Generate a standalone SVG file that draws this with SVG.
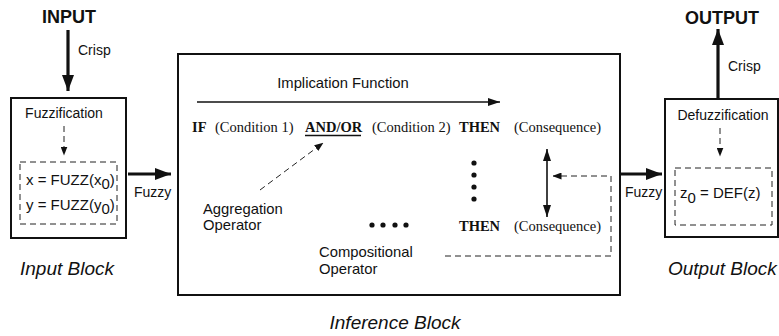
<svg xmlns="http://www.w3.org/2000/svg" width="779" height="336" viewBox="0 0 779 336">
  <style>
    .box { fill: none; stroke: #111; stroke-width: 2; }
    .dash { fill: none; stroke: #222; stroke-width: 1; stroke-dasharray: 6 4; }
    .thick { fill: none; stroke: #111; stroke-width: 3.2; }
    .thin { fill: none; stroke: #111; stroke-width: 1.6; }
    .sans { font-family: "Liberation Sans", Arial, sans-serif; fill: #111; }
    .serif { font-family: "Liberation Serif", "Times New Roman", serif; fill: #111; font-size: 14.5px; }
    .b { font-weight: bold; }
    .lbl { font-size: 14px; }
    .op { font-size: 14.8px; }
    .eq { font-size: 15px; }
    .title { font-size: 18px; font-weight: bold; }
    .cap { font-size: 19px; font-style: italic; }
  </style>
  <defs>
    <marker id="headLg" markerUnits="userSpaceOnUse" markerWidth="17" markerHeight="12" refX="16" refY="6" orient="auto">
      <path d="M0,0 L16,6 L0,12 z" fill="#111"/>
    </marker>
    <marker id="headMd" markerUnits="userSpaceOnUse" markerWidth="13" markerHeight="8" refX="12" refY="4" orient="auto-start-reverse">
      <path d="M0,0 L12,4 L0,8 z" fill="#111"/>
    </marker>
    <marker id="headSm" markerUnits="userSpaceOnUse" markerWidth="9" markerHeight="7" refX="8.5" refY="3.5" orient="auto">
      <path d="M0,0 L9,3.5 L0,7 z" fill="#111"/>
    </marker>
  </defs>

  <!-- Input block -->
  <g id="input-block">
    <text class="sans title" x="69" y="23" text-anchor="middle">INPUT</text>
    <rect class="box" x="11" y="98" width="115" height="140"/>
    <text class="sans lbl" x="64" y="118" text-anchor="middle">Fuzzification</text>
    <rect class="dash" x="20" y="162" width="97" height="62"/>
    <text class="sans eq" x="26" y="185">x = FUZZ(x<tspan dy="4">0</tspan><tspan dy="-4">)</tspan></text>
    <text class="sans eq" x="26" y="210">y = FUZZ(y<tspan dy="4">0</tspan><tspan dy="-4">)</tspan></text>
    <text class="sans cap" x="20" y="275">Input Block</text>
  </g>

  <!-- Inference block -->
  <g id="inference-block">
    <rect class="box" x="178" y="54" width="442" height="241"/>
    <text class="sans op" x="343" y="88" text-anchor="middle">Implication Function</text>
    <text class="serif b" x="192" y="132">IF</text>
    <text class="serif" x="215" y="132">(Condition 1)</text>
    <text class="serif b" x="305" y="132">AND/OR</text>
    <line x1="305" y1="135.5" x2="361" y2="135.5" stroke="#111" stroke-width="1.4"/>
    <text class="serif" x="372" y="132">(Condition 2)</text>
    <text class="serif b" x="459" y="132">THEN</text>
    <text class="serif" x="514" y="132">(Consequence)</text>
    <g fill="#111">
      <circle cx="474" cy="163" r="2.6"/>
      <circle cx="474" cy="175" r="2.6"/>
      <circle cx="474" cy="187" r="2.6"/>
      <circle cx="474" cy="199" r="2.6"/>
      <circle cx="372" cy="225" r="2.6"/>
      <circle cx="383" cy="225" r="2.6"/>
      <circle cx="395" cy="225" r="2.6"/>
      <circle cx="406" cy="225" r="2.6"/>
    </g>
    <text class="serif b" x="459" y="231">THEN</text>
    <text class="serif" x="514" y="231">(Consequence)</text>
    <text class="sans op" x="203" y="214">Aggregation</text>
    <text class="sans op" x="203" y="230">Operator</text>
    <text class="sans op" x="319" y="257">Compositional</text>
    <text class="sans op" x="319" y="274">Operator</text>
    <text class="sans cap" x="395" y="329" text-anchor="middle">Inference Block</text>
  </g>

  <!-- Output block -->
  <g id="output-block">
    <text class="sans title" x="722" y="24" text-anchor="middle">OUTPUT</text>
    <rect class="box" x="665" y="99" width="113" height="138"/>
    <text class="sans lbl" x="723" y="120" text-anchor="middle">Defuzzification</text>
    <rect class="dash" x="675" y="168" width="97" height="57"/>
    <text class="sans eq" x="680" y="198">z<tspan dy="5">0</tspan><tspan dy="-5"> = DEF(z)</tspan></text>
    <text class="sans cap" x="668" y="275">Output Block</text>
  </g>

  <!-- Connectors -->
  <g id="connectors">
    <line class="thick" x1="68" y1="30" x2="68" y2="91" marker-end="url(#headLg)"/>
    <text class="sans lbl" x="78" y="55">Crisp</text>
    <line class="dash" x1="64" y1="126" x2="64" y2="155" marker-end="url(#headSm)"/>
    <line class="thick" x1="128" y1="174" x2="171" y2="174" marker-end="url(#headLg)"/>
    <text class="sans lbl" x="134" y="197">Fuzzy</text>
    <line class="thin" x1="197" y1="102" x2="500" y2="102" marker-end="url(#headMd)"/>
    <line class="dash" x1="260" y1="190" x2="323" y2="143" marker-end="url(#headSm)"/>
    <line class="thin" x1="547" y1="149" x2="547" y2="217" marker-start="url(#headMd)" marker-end="url(#headMd)"/>
    <polyline class="dash" points="445,256 611,256 611,176 553,176" marker-end="url(#headSm)"/>
    <line class="thick" x1="621" y1="174" x2="662" y2="174" marker-end="url(#headLg)"/>
    <text class="sans lbl" x="625" y="197">Fuzzy</text>
    <line class="dash" x1="720" y1="128" x2="720" y2="156" marker-end="url(#headSm)"/>
    <line class="thick" x1="718" y1="98" x2="718" y2="29" marker-end="url(#headLg)"/>
    <text class="sans lbl" x="728" y="71">Crisp</text>
  </g>
</svg>
